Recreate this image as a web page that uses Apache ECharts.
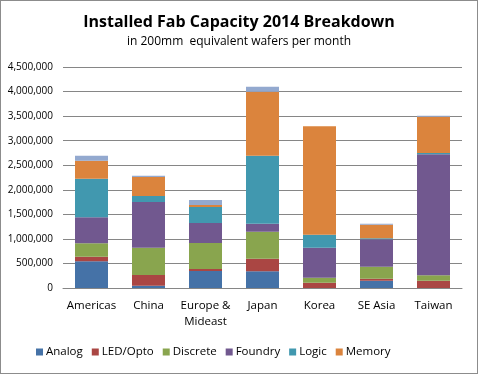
<!DOCTYPE html>
<html><head><meta charset="utf-8">
<script src="https://cdn.jsdelivr.net/npm/echarts@6/dist/echarts.min.js"></script>
<style>
html,body{margin:0;padding:0;background:#fff;}
#c{width:476px;height:372px;border:1px solid #8c8c8c;}
</style></head>
<body><div id="c"></div>
<script>
var categories = ['Americas','China','Europe &\nMideast','Japan','Korea','SE Asia','Taiwan'];
var analog   = [543000, 47000, 346000, 339000, 0, 149000, 0];
var ledOpto  = [95000, 218000, 41000, 258000, 109000, 41000, 149000];
var discrete = [272000, 556000, 529000, 550000, 101000, 244000, 109000];
var foundry  = [529000, 930000, 407000, 163000, 611000, 557000, 2464000];
var logic    = [787000, 123000, 326000, 1385000, 265000, 20000, 27000];
var memory   = [367000, 386000, 41000, 1303000, 2206000, 279000, 739000];
var other    = [102000, 27000, 102000, 102000, 0, 20000, 21000];
var yTicks = [0,500000,1000000,1500000,2000000,2500000,3000000,3500000,4000000,4500000];

var names = ['Analog','LED/Opto','Discrete','Foundry','Logic','Memory','Other'];
var data = [analog, ledOpto, discrete, foundry, logic, memory, other];
var colors = ['#4572A7','#AA4643','#89A54E','#71588F','#4198AF','#DB843D','#93A9CF'];

var chart = echarts.init(document.getElementById('c'));
chart.setOption({
  animation:false,
  textStyle:{fontFamily:'Open Sans'},
  title:{
    text:'Installed Fab Capacity 2014 Breakdown',
    subtext:'in 200mm  equivalent wafers per month',
    left:'center', top:8, itemGap:6,
    textStyle:{fontFamily:'Open Sans',fontSize:16,fontWeight:'bold',color:'#000'},
    subtextStyle:{fontFamily:'Open Sans',fontSize:12,color:'#000'}
  },
  legend:{
    data:names.slice(0,6), bottom:10, left:30, itemWidth:7, itemHeight:7, itemGap:9,
    icon:'rect',
    textStyle:{fontFamily:'Open Sans',fontSize:11.5,color:'#000',padding:[0,0,0,-2]}
  },
  grid:{left:62, right:15, top:66, bottom:85, containLabel:false},
  xAxis:{
    type:'category', data:categories,
    axisLine:{lineStyle:{color:'#868686'}},
    axisTick:{show:false},
    axisLabel:{fontFamily:'Open Sans',fontSize:11.5,color:'#000',margin:10,interval:0,lineHeight:16}
  },
  yAxis:{
    type:'value', min:0, max:4500000, interval:500000,
    axisLine:{show:false}, axisTick:{show:false},
    splitLine:{lineStyle:{color:'#868686'}},
    axisLabel:{fontFamily:'Open Sans',fontSize:10,color:'#000',margin:10,
      formatter:function(v){return v.toLocaleString('en-US');}}
  },
  series:names.map(function(n,i){
    return {name:n,type:'bar',stack:'a',data:data[i],barWidth:33,
      itemStyle:{color:colors[i]}};
  })
});
</script></body></html>
